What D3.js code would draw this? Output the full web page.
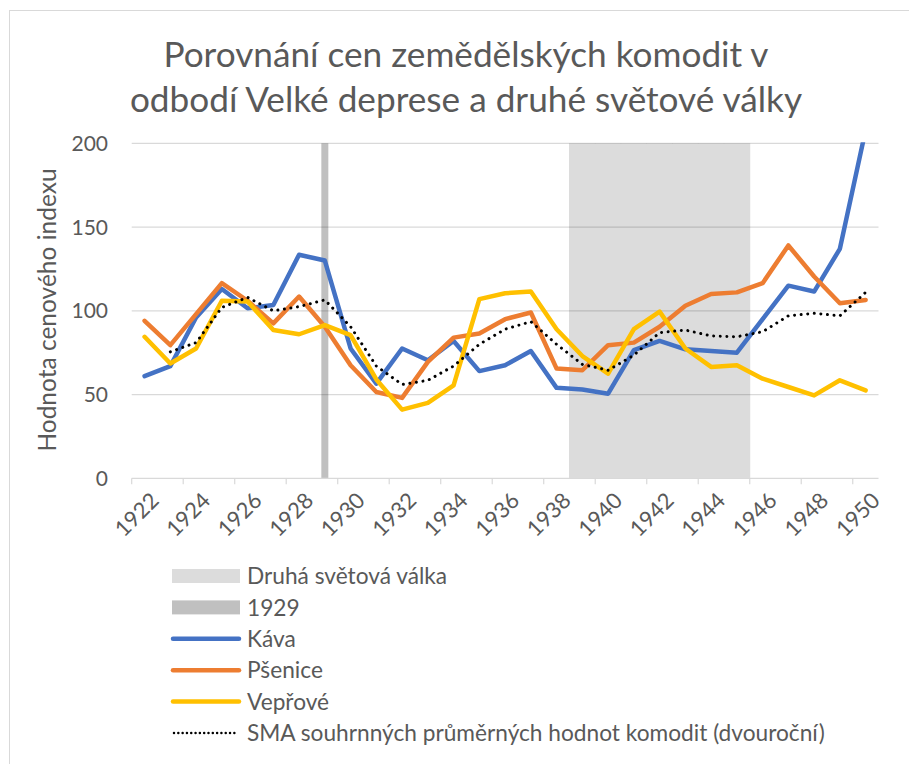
<!DOCTYPE html>
<html>
<head>
<meta charset="utf-8">
<script src="https://cdn.jsdelivr.net/npm/d3@7/dist/d3.min.js"></script>
<style>
  html, body { margin: 0; padding: 0; background: #fff; }
  svg { display: block; }
  text { font-family: Lato, "Open Sans", sans-serif; fill: #595959; }
</style>
</head>
<body>
<svg id="chart" width="909" height="764"></svg>
<script>
const years = [1922,1923,1924,1925,1926,1927,1928,1929,1930,1931,1932,1933,1934,1935,1936,1937,1938,1939,1940,1941,1942,1943,1944,1945,1946,1947,1948,1949,1950];
const kava = [61, 67, 96, 113, 101.5, 103.5, 133.5, 130, 77.5, 56.5, 77.5, 70.5, 82, 64, 67.5, 76, 54, 53, 50.5, 76.5, 82, 77, 76, 75, 95, 115, 111.5, 137, 208];
const psenice = [94, 79.5, 98, 116.5, 106, 92.5, 108.5, 90.5, 67.5, 51.5, 48, 69.5, 84, 86.5, 95, 99, 65.5, 64.5, 79.5, 81, 90.5, 103, 110, 111, 116.5, 139, 120.5, 104.5, 106.5];
const veprove = [84.5, 68.5, 77.5, 106, 105.5, 88.5, 86, 91.5, 85.5, 59, 41, 45, 55.5, 107, 110.5, 111.5, 89, 73, 62.5, 89, 99.5, 77.5, 66.5, 67.5, 59.5, 54.5, 49.5, 58.5, 52.5];
const sma = [null, 75.5, 81, 102, 108, 100, 102.5, 106.5, 90.5, 67, 56, 58.5, 67, 80, 89, 93.5, 80, 68, 64.5, 73.5, 87, 88.5, 85, 84.5, 87.5, 97, 98.5, 97, 111];
const warYears = [1939, 1940, 1941, 1942, 1943, 1944, 1945];
const warValues = [200, 200, 200, 200, 200, 200, 200];
const crashYears = [1929];
const crashValues = [200];
const yTicks = [0, 50, 100, 150, 200];
const xLabelYears = [1922,1924,1926,1928,1930,1932,1934,1936,1938,1940,1942,1944,1946,1948,1950];
const titleLines = ["Porovnání cen zemědělských komodit v", "odbodí Velké deprese a druhé světové války"];
const yTitle = "Hodnota cenového indexu";
const legendItems = [
  {name: "Druhá světová válka", type: "rect", color: "#dcdcdc"},
  {name: "1929", type: "rect", color: "#c0c0c0"},
  {name: "Káva", type: "line", color: "#4472C4"},
  {name: "Pšenice", type: "line", color: "#ED7D31"},
  {name: "Vepřové", type: "line", color: "#FFC000"},
  {name: "SMA souhrnných průměrných hodnot komodit (dvouroční)", type: "dot", color: "#000"}
];

const svg = d3.select("#chart");
const W = 909, H = 764;
const plot = {left: 131.7, right: 878.5, top: 143.3, bottom: 478.3};

svg.append("rect").attr("x", 0).attr("y", 0).attr("width", W).attr("height", H).attr("fill", "#fff");
svg.append("rect").attr("x", 9.5).attr("y", 10.5).attr("width", W + 20).attr("height", H + 20)
  .attr("fill", "none").attr("stroke", "#d9d9d9").attr("stroke-width", 1);

const x = d3.scaleBand().domain(years).range([plot.left, plot.right]).padding(0);
const y = d3.scaleLinear().domain([0, 200]).range([plot.bottom, plot.top]);
const cx = d => x(d) + x.bandwidth() / 2;

// WWII band
svg.append("g").selectAll("rect").data(warYears.map((yr, i) => ({yr, v: warValues[i]}))).join("rect")
  .attr("x", d => x(d.yr) - 0.5).attr("width", x.bandwidth() + 1)
  .attr("y", d => y(d.v)).attr("height", d => y(0) - y(d.v))
  .attr("fill", "#dcdcdc");

// 1929 bar
const crashW = 7;
svg.append("g").selectAll("rect").data(crashYears.map((yr, i) => ({yr, v: crashValues[i]}))).join("rect")
  .attr("x", d => cx(d.yr) - crashW / 2).attr("width", crashW)
  .attr("y", d => y(d.v)).attr("height", d => y(0) - y(d.v))
  .attr("fill", "#c0c0c0");

// gridlines
svg.append("g").selectAll("line").data(yTicks.filter(d => d > 0)).join("line")
  .attr("x1", plot.left).attr("x2", plot.right)
  .attr("y1", d => y(d)).attr("y2", d => y(d))
  .attr("stroke", "#000").attr("stroke-opacity", 0.15).attr("stroke-width", 1.2);

// x axis line and ticks
svg.append("line").attr("x1", plot.left).attr("x2", plot.right)
  .attr("y1", plot.bottom).attr("y2", plot.bottom).attr("stroke", "#d9d9d9").attr("stroke-width", 1.2);
const tickIdx = d3.range(0, years.length, 2);
svg.append("g").selectAll("line").data(tickIdx).join("line")
  .attr("x1", i => x(years[i])).attr("x2", i => x(years[i]))
  .attr("y1", plot.bottom).attr("y2", plot.bottom + 6)
  .attr("stroke", "#d9d9d9").attr("stroke-width", 1.2);

// y tick labels
svg.append("g").selectAll("text").data(yTicks).join("text")
  .attr("x", 108).attr("y", d => y(d)).attr("dy", "0.36em")
  .attr("text-anchor", "end").attr("font-size", 21).text(d => d);

// x labels
svg.append("g").selectAll("text").data(xLabelYears).join("text")
  .attr("transform", d => `translate(${cx(d) + 10},${plot.bottom + 18}) rotate(-45)`)
  .attr("text-anchor", "end").attr("dy", "0.36em").attr("font-size", 22).text(d => d);

// y title
svg.append("text").attr("transform", `translate(47,310) rotate(-90)`)
  .attr("text-anchor", "middle").attr("dy", "0.36em").attr("font-size", 24.5).text(yTitle);

// title
svg.append("g").selectAll("text").data(titleLines).join("text")
  .attr("x", 466).attr("y", (d, i) => 67 + i * 45)
  .attr("text-anchor", "middle").attr("font-size", 35.2).text(d => d);

// lines
svg.append("clipPath").attr("id", "clip").append("rect")
  .attr("x", plot.left).attr("y", plot.top - 1).attr("width", plot.right - plot.left).attr("height", plot.bottom - plot.top + 1);
const line = d3.line().defined(d => d.v != null).x(d => cx(d.yr)).y(d => y(d.v));
const lg = svg.append("g").attr("clip-path", "url(#clip)");
const series = [
  {vals: kava, color: "#4472C4"},
  {vals: psenice, color: "#ED7D31"},
  {vals: veprove, color: "#FFC000"}
];
series.forEach(s => {
  lg.append("path").datum(years.map((yr, i) => ({yr, v: s.vals[i]})))
    .attr("d", line).attr("fill", "none").attr("stroke", s.color)
    .attr("stroke-width", 4.5).attr("stroke-linejoin", "round").attr("stroke-linecap", "round");
});
lg.append("path").datum(years.map((yr, i) => ({yr, v: sma[i]})))
  .attr("d", line).attr("fill", "none").attr("stroke", "#000")
  .attr("stroke-width", 3).attr("stroke-dasharray", "0.01 6.6").attr("stroke-linecap", "round");

// legend
const leg = svg.append("g");
legendItems.forEach((it, i) => {
  const ly = 576 + i * 31.4;
  if (it.type === "rect") {
    leg.append("rect").attr("x", 172).attr("y", ly - 7).attr("width", 68).attr("height", 14)
      .attr("fill", it.color);
  } else if (it.type === "line") {
    leg.append("line").attr("x1", 173).attr("x2", 239).attr("y1", ly).attr("y2", ly)
      .attr("stroke", it.color).attr("stroke-width", 4.5).attr("stroke-linecap", "round");
  } else {
    leg.append("line").attr("x1", 174).attr("x2", 238).attr("y1", ly).attr("y2", ly)
      .attr("stroke", it.color).attr("stroke-width", 2.5).attr("stroke-dasharray", "0.01 4.3").attr("stroke-linecap", "round");
  }
  leg.append("text").attr("x", 247).attr("y", ly).attr("dy", "0.36em").attr("font-size", 22.7).text(it.name);
});
</script>
</body>
</html>
